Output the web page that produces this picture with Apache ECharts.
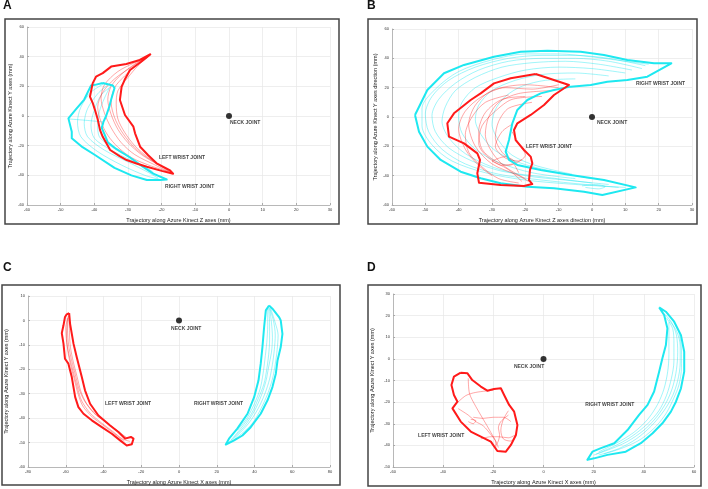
<!DOCTYPE html>
<html><head><meta charset="utf-8">
<script src="https://cdn.jsdelivr.net/npm/echarts@6/dist/echarts.min.js"></script>
<style>html,body{margin:0;padding:0;background:#fff}#c{width:708px;height:489px}</style>
</head><body><div id="c"></div>
<script>
// ---------- Panel A (Z vs Y) ----------
const A_leftOuter = [[-23.2,41.8],[-26.5,37.8],[-30.5,35.1],[-35,33.3],[-37.5,28.9],[-39.5,26.5],[-40.5,22],[-41.3,13],[-40.5,8.9],[-39.8,4],[-39,-2.2],[-38.3,-9.5],[-37.5,-14],[-35.3,-22.9],[-32.5,-27],[-30.4,-29.7],[-27.5,-32],[-24.4,-34.2],[-20,-37],[-16.6,-38.9],[-17.5,-36.7],[-21.5,-31.9],[-24,-26.5],[-26.4,-20.7],[-27.9,-11.7],[-28.4,-7.2],[-30.9,0.7],[-32.4,10.8],[-31.9,19.7],[-31,24.4],[-29.4,31],[-26,36.7],[-23.2,41.8]];
const A_leftTraces = [
 [[-23.5,41],[-28,36],[-33,30],[-37,21],[-38,12],[-37,2],[-35,-8],[-32,-18],[-28,-26],[-22,-33],[-17.5,-38]],
 [[-24,40.5],[-28,35],[-32,28],[-35,20],[-36,11],[-35,1],[-33,-9],[-30,-18],[-26,-26],[-21,-33],[-17,-38]],
 [[-24,40],[-27,35],[-31,27],[-34,19],[-35,9],[-34,-1],[-32,-10],[-29,-19],[-25,-27],[-20,-34],[-17,-38.5]],
 [[-24,40],[-27,34],[-30,26],[-33,17],[-33.5,8],[-33,-2],[-31,-11],[-28,-20],[-24,-28],[-19.5,-34.5]],
 [[-25,39],[-29,33],[-34,25],[-37.5,16],[-39,6],[-38,-4],[-36,-13],[-33,-21],[-29,-28],[-24,-33],[-18,-37.5]]
];
const A_rightOuter = [[-37.5,22.2],[-34.5,20.5],[-34,18.9],[-35,11.1],[-35.5,6.7],[-36.5,0],[-37.3,-4],[-37.8,-8],[-37,-12.2],[-36,-17.8],[-33.5,-22.2],[-29.5,-27.8],[-25.5,-34.4],[-22.5,-38.9],[-18.5,-42.8],[-20.5,-43.2],[-24.4,-43.2],[-29,-40],[-34,-35],[-39.8,-26.3],[-43.5,-21],[-46.7,-15],[-46.7,-10.6],[-47.7,-1.6],[-45.5,4.4],[-43,11.1],[-41,20.5],[-39.8,21],[-37.5,22.2]];
const A_rightTraces = [
 [[-37,22],[-41,16],[-44,6],[-45,-4],[-44,-14],[-39,-24],[-32,-33],[-25,-40],[-21,-42.5]],
 [[-36,21],[-39,15],[-42,5],[-43,-5],[-42,-14],[-37,-23],[-30,-31],[-24,-38],[-21,-42]],
 [[-35,20],[-38,14],[-40,4],[-41,-6],[-40,-15],[-35,-23],[-29,-30],[-23,-37]],
 [[-35.5,19],[-37,12],[-38.5,3],[-39,-6],[-38.5,-14],[-34,-22],[-28,-30],[-22.5,-38]],
 [[-47.5,-2],[-42,-3],[-37.5,-4]]
];
// ---------- Panel B (Z vs Y, direction) ----------
const B_rightOuter = [[-53.1,1.4],[-49.4,18.4],[-44.4,29.8],[-38.4,35.5],[-29.4,41.1],[-21.4,44.5],[-13.4,45.2],[-3.4,44.5],[3.6,42.3],[10.6,38.9],[18.6,36.6],[23.8,36.6],[16.6,27.5],[10.6,25.2],[4.6,24.1],[-0.4,21.8],[-6.4,20.7],[-11.4,18.4],[-15.4,16.1],[-19.4,11.6],[-22.4,4.8],[-23.9,-4.3],[-24.9,-15.7],[-25.9,-23.6],[-24.9,-29.3],[-22.4,-32.7],[-15.4,-36.1],[-6.4,-39.5],[3.6,-43],[13.1,-48],[3.1,-53.2],[-2.4,-50.9],[-11.4,-48.6],[-19.4,-47.5],[-27.4,-45.2],[-33.4,-41.8],[-39.4,-37.3],[-45.4,-29.3],[-49.4,-20.2],[-51.9,-10],[-53.1,1.4]];
const B_rightTraces = [
 [[17,36],[10,38],[0,41],[-10,43],[-20,43],[-30,39],[-40,31],[-47,19],[-51,6],[-51,-6],[-48,-19],[-42,-30],[-32,-38],[-20,-43],[-5,-46],[10,-48]],
 [[16,35],[5,40],[-5,42],[-15,42],[-25,40],[-35,34],[-43,25],[-48,14],[-50,2],[-49,-10],[-45,-22],[-38,-32],[-28,-39],[-15,-43],[-2,-46],[8,-48]],
 [[15,33],[5,38],[-5,40],[-15,40],[-25,38],[-34,32],[-41,23],[-46,12],[-48,1],[-47,-10],[-43,-21],[-36,-30],[-27,-37],[-14,-41],[0,-45]],
 [[12,32],[2,36],[-8,38],[-18,37],[-27,34],[-35,27],[-41,18],[-44,7],[-45,-3],[-43,-14],[-38,-25],[-30,-34],[-20,-40],[-8,-43],[5,-46]],
 [[10,30],[0,33],[-10,34],[-20,32],[-28,27],[-35,20],[-39,10],[-40,0],[-39,-11],[-35,-22],[-28,-31],[-18,-38],[-5,-42]],
 [[5,28],[-5,30],[-15,29],[-23,25],[-30,18],[-34,8],[-35,-2],[-33,-13],[-29,-23],[-22,-31],[-12,-37],[0,-42]],
 [[-5,26],[-14,25],[-21,21],[-26,14],[-29,5],[-30,-5],[-28,-16],[-24,-26],[-17,-33],[-6,-39]],
 [[-3,-47],[1,-46],[4,-47.5],[2,-49],[-2,-48]]
];
const B_leftOuter = [[-16.9,29.3],[-6.9,21.8],[-11.4,15],[-14.4,8.2],[-18.4,1.4],[-22.4,-4.3],[-23.4,-8.9],[-22.9,-15.7],[-20.4,-22.5],[-18.4,-27],[-17.9,-31.6],[-18.6,-36.1],[-18.9,-43],[-17.9,-45.7],[-20.4,-47],[-27.4,-46.4],[-33.9,-44.8],[-34.4,-38.4],[-33.6,-29.3],[-34.4,-24.8],[-38.4,-18],[-42.9,-13.4],[-43.4,-4.3],[-41.4,2.5],[-36.4,11.6],[-33.4,16.1],[-29.4,22.9],[-24.4,26.4],[-16.9,29.3]];
const B_leftTraces = [
 [[-10,20],[-20,22],[-30,18],[-35,8],[-37,-5],[-35,-20],[-30,-32],[-22,-40],[-19,-44]],
 [[-12,18],[-22,16],[-28,10],[-31,0],[-32,-12],[-30,-24],[-26,-34],[-20,-42]],
 [[-15,14],[-24,12],[-29,4],[-33,-6],[-34,-18],[-31,-28],[-25,-36],[-21,-44]],
 [[-18,10],[-25,6],[-28,-3],[-29,-14],[-27,-24],[-24,-30],[-22,-38]],
 [[-25,15],[-32,10],[-36,0],[-38,-12],[-37,-24],[-33,-34],[-28,-42],[-22,-45]],
 [[-10,22],[-18,19],[-26,20],[-33,14],[-38,4],[-40,-8],[-38,-22],[-34,-33],[-30,-40]],
 [[-24,-5],[-27,-10],[-29,-20],[-26,-28],[-22,-30],[-20,-26],[-22,-18],[-24,-10]],
 [[-30,-30],[-27,-33],[-23,-31],[-26,-27],[-30,-30]],
 [[-20,14],[-27,12],[-32,3],[-34,-10],[-33,-22],[-29,-30],[-25,-33],[-21,-29]]
];
// ---------- Panel C (X vs Y) ----------
const C_leftOuter = [[-58.2,3],[-59.5,2.5],[-60.4,1.4],[-61.2,-2],[-62.1,-5.2],[-61.2,-9.5],[-60.4,-15.7],[-58.6,-17.7],[-56.8,-23.2],[-55.9,-27.3],[-55,-31.4],[-53.3,-35.5],[-50.6,-38.2],[-46.2,-40.9],[-40.9,-43.7],[-35.6,-46.4],[-31.2,-49.1],[-27.7,-51.2],[-25,-50.7],[-24.1,-48.4],[-25.5,-47.7],[-28.6,-48.4],[-32.1,-45.7],[-36.5,-43],[-42.7,-38.9],[-47.1,-34.1],[-49.8,-28.6],[-51.5,-23.2],[-54.2,-15],[-55.9,-9.5],[-57.7,-1.4],[-58.2,3]];
const C_leftTraces = [
 [[-58.5,2],[-60,-3],[-59.5,-9],[-58,-15],[-56,-21],[-54,-27],[-51.5,-33],[-47,-38],[-41,-42],[-35,-45.5],[-30,-48.5],[-26,-49.5]],
 [[-58.5,2],[-59,-4],[-58.5,-10],[-57,-16],[-55,-22],[-53,-28],[-50,-33],[-45,-38],[-39,-41.5],[-33,-45],[-28,-48]],
 [[-58,1],[-58,-5],[-57.5,-11],[-56,-17],[-54,-23],[-52,-29],[-49,-34],[-44,-38.5],[-38,-42],[-32,-45.5],[-27,-48.5]],
 [[-59,1],[-59.5,-6],[-59,-12],[-57.5,-18],[-55.5,-24],[-53.5,-30],[-51,-35],[-46,-39.5],[-40,-43],[-34,-46.5],[-29,-49.5]]
];
const C_rightOuter = [[47.7,6.1],[49.5,4.8],[53,1.4],[53.9,0],[54.8,-5.5],[53.9,-10.9],[52.2,-16.4],[51.3,-21.8],[49.5,-27.3],[46.9,-32.7],[43.3,-38.2],[38,-43.7],[33.6,-47.1],[29.2,-49.1],[24.8,-50.8],[26.5,-48.4],[30.9,-44.3],[36.3,-38.2],[39.8,-31.4],[42.1,-24.6],[43.3,-17.7],[44.2,-10.9],[45.1,-2.7],[46,4.1],[47.7,6.1]];
const C_rightTraces = [
 [[48,5],[50,0],[51,-6],[50.5,-12],[49.5,-18],[48,-24],[45.5,-30],[42,-36],[37,-42],[31,-47],[26,-50]],
 [[48,5],[49,-1],[49.5,-7],[49,-13],[47.5,-19],[46,-25],[43.5,-31],[40,-37],[35,-43],[29,-48]],
 [[47.5,5],[48,-1],[48,-8],[47.5,-14],[46.5,-20],[45,-26],[42,-32],[38.5,-38],[33,-44],[27.5,-49]],
 [[48.5,5],[51,-1],[52.5,-6],[52,-12],[51,-18],[49.5,-24],[47,-30],[43.5,-36],[39,-42],[33,-46.5],[27,-50]],
 [[47,5],[47,-2],[46.5,-9],[45.5,-16],[44.5,-22],[43,-28],[40,-34],[36,-40],[31,-45]]
];
// ---------- Panel D (X vs Y) ----------
const D_leftOuter = [[-33,-6.4],[-35.7,-8.2],[-36.7,-12.1],[-35.7,-16.7],[-34.3,-19.8],[-36.3,-22.9],[-33,-29],[-29,-33.6],[-25,-36],[-21,-38.3],[-18.4,-42.6],[-15,-42.9],[-13,-39.8],[-11,-35.2],[-10.4,-30.6],[-11.7,-24.4],[-13.7,-21.3],[-15.7,-16.7],[-17,-13.6],[-19.7,-13.9],[-22.4,-14.7],[-25,-12.8],[-28.4,-9.8],[-30.3,-6.7],[-33,-6.4]];
const D_leftTraces = [
 [[-30,-9],[-29.5,-16],[-27,-22],[-24,-28],[-21,-34],[-19,-39],[-19,-41]],
 [[-35,-21],[-31,-17],[-27,-15.5],[-20,-14.5]],
 [[-34,-23],[-30,-26],[-27,-29],[-24,-31],[-21,-35],[-19,-38],[-18,-41]],
 [[-28,-27],[-24,-27.5],[-20,-27],[-16,-27],[-13,-29]],
 [[-14,-24],[-16,-28],[-17,-33],[-16,-37],[-13,-38],[-11,-36]],
 [[-25,-37],[-21,-36],[-18,-36],[-14,-36.5],[-11,-35]],
 [[-19,-40],[-18,-38],[-17.5,-35],[-18,-32],[-17,-29],[-14,-26]],
 [[-30,-29],[-28,-30],[-27,-28.5],[-29,-28]]
];
const D_rightOuter = [[46.1,23.8],[48.8,21.8],[52.1,17.2],[54.8,11],[56.1,3.3],[56.1,-5.9],[54.8,-13.6],[52.8,-19.8],[50.8,-24.4],[47.4,-29.8],[43.5,-34.4],[38.8,-39],[32.8,-42.9],[25.5,-44.4],[20.2,-46],[17.5,-46.7],[19.5,-42.9],[22.9,-41.3],[28.2,-39],[33.5,-32.9],[38.1,-25.9],[41.5,-21.3],[44.1,-15.1],[46.1,-5.9],[47.4,0.3],[48.8,6.4],[49.4,14.1],[48.1,20.3],[46.1,23.8]];
const D_rightTraces = [
 [[48,21],[51,17],[53,11],[53.5,3],[53,-5],[51.5,-13],[49,-20],[45,-27],[40,-33],[33,-38.5],[26,-42],[20,-44.5]],
 [[49,19],[51.5,14],[52,7],[52,-1],[51,-9],[49,-17],[46,-24],[41.5,-30],[35,-36],[28,-40.5],[21,-44]],
 [[50,18],[53,13],[54.5,6],[54.5,-2],[53.5,-10],[51.5,-17],[48,-24],[43,-31],[37,-37],[30,-41.5],[22,-44.5]],
 [[50,17],[50,10],[50,2],[49.5,-6],[48,-14],[45.5,-21],[41.5,-28],[36,-34],[29,-39],[22,-43]],
 [[52,17],[54,12],[55,4],[55,-4],[54,-12],[52,-18],[49,-25],[45,-31],[39,-37],[32,-41],[24,-44]]
];
// ---------- annotations ----------
const neck = [0, 0];
const labelsA = [["NECK JOINT",0.3,-4.7],["LEFT WRIST JOINT",-20.8,-28.3],["RIGHT WRIST JOINT",-19,-47.9]];
const labelsB = [["RIGHT WRIST JOINT",13.2,22.5],["NECK JOINT",1.5,-4.1],["LEFT WRIST JOINT",-19.8,-20.4]];
const labelsC = [["NECK JOINT",-4.2,-3.5],["LEFT WRIST JOINT",-39.2,-34.2],["RIGHT WRIST JOINT",7.9,-34.2]];
const labelsD = [["NECK JOINT",-11.8,-3.8],["RIGHT WRIST JOINT",16.6,-21.3],["LEFT WRIST JOINT",-50,-35.6]];
const xTitles = ["Trajectory along Azure Kinect Z axes (mm)","Trajectory along Azure Kinect Z axes direction (mm)","Trajectory along Azure Kinect X axes (mm)","Trajectory along Azure Kinect X axes (mm)"];
const yTitles = ["Trajectory along Azure Kinect Y axes (mm)","Trajectory along Azure Kinect Y axes direction (mm)","Trajectory along Azure Kinect Y axes (mm)","Trajectory along Azure Kinect Y axes (mm)"];
const xRanges = [[-60,30,10],[-60,30,10],[-80,80,20],[-60,60,20]];
const yRanges = [[-60,60,20],[-60,60,20],[-60,10,10],[-50,30,10]];

const RED = '#ff1a1a', CYAN = '#1ee8f0';
const FONT = 'Liberation Sans, Arial, sans-serif';
const grids = [
  {left:27, right:378, top:27, bottom:284},
  {left:392, right:16, top:29, bottom:284},
  {left:28, right:378, top:296, bottom:22},
  {left:393, right:14, top:294, bottom:22}
];
const yGaps = [14, 14, 19, 18];
const xAxes = [], yAxes = [];
for (let i = 0; i < 4; i++) {
  xAxes.push({type:'value', gridIndex:i, min:xRanges[i][0], max:xRanges[i][1], interval:xRanges[i][2],
    name:xTitles[i], nameLocation:'middle', nameGap:12,
    nameTextStyle:{fontSize:5.5, color:'#222', fontFamily:FONT},
    axisLine:{onZero:false, lineStyle:{color:'#aaa', width:0.8}},
    axisTick:{inside:true, length:2, lineStyle:{color:'#aaa'}},
    axisLabel:{fontSize:4, color:'#333', margin:3, fontFamily:FONT},
    splitLine:{show:true, lineStyle:{color:'#e6e6e6', width:0.7}}});
  yAxes.push({type:'value', gridIndex:i, min:yRanges[i][0], max:yRanges[i][1], interval:yRanges[i][2],
    name:yTitles[i], nameLocation:'middle', nameGap:yGaps[i],
    nameTextStyle:{fontSize:5.5, color:'#222', fontFamily:FONT},
    axisLine:{onZero:false, lineStyle:{color:'#aaa', width:0.8}},
    axisTick:{inside:true, length:2, lineStyle:{color:'#aaa'}},
    axisLabel:{fontSize:4, color:'#333', margin:3, fontFamily:FONT},
    splitLine:{show:true, lineStyle:{color:'#e6e6e6', width:0.7}}});
}
const series = [];
function addLine(i, data, color, width, opacity, smooth) {
  series.push({type:'line', xAxisIndex:i, yAxisIndex:i, data:data, showSymbol:false, symbol:'none',
    smooth:smooth, silent:true, animation:false,
    lineStyle:{color:color, width:width, opacity:opacity, join:'round'}, z: width > 1 ? 5 : 3});
}
const panels = [
  {left:A_leftOuter, lt:A_leftTraces, right:A_rightOuter, rt:A_rightTraces, labels:labelsA},
  {left:B_leftOuter, lt:B_leftTraces, right:B_rightOuter, rt:B_rightTraces, labels:labelsB},
  {left:C_leftOuter, lt:C_leftTraces, right:C_rightOuter, rt:C_rightTraces, labels:labelsC},
  {left:D_leftOuter, lt:D_leftTraces, right:D_rightOuter, rt:D_rightTraces, labels:labelsD}
];
panels.forEach((p, i) => {
  p.rt.forEach(t => addLine(i, t, CYAN, 0.7, 0.6, 0.3));
  p.lt.forEach(t => addLine(i, t, RED, 0.7, 0.55, 0.3));
  addLine(i, p.right, CYAN, 2, 1, false);
  addLine(i, p.left, RED, 2, 1, false);
  series.push({type:'scatter', xAxisIndex:i, yAxisIndex:i, data:[neck], symbolSize:6,
    itemStyle:{color:'#000'}, z:6, animation:false});
  series.push({type:'scatter', xAxisIndex:i, yAxisIndex:i, symbolSize:0, animation:false, z:7,
    data:p.labels.map(l => ({value:[l[1], l[2]], name:l[0]})),
    label:{show:true, position:'right', distance:0, formatter:'{b}', fontSize:5, fontWeight:'bold',
      color:'#111', fontFamily:FONT}});
});
const boxes = [[5,19,334,205],[368,19,329,205],[2,285,338,200],[368,285,333,201]];
const letters = [['A',3,0],['B',367,0],['C',3,262],['D',367,262]];
const graphic = [];
boxes.forEach(b => graphic.push({type:'rect', shape:{x:b[0], y:b[1], width:b[2], height:b[3]},
  style:{fill:'none', stroke:'#444', lineWidth:1.5}, silent:true}));
letters.forEach(l => graphic.push({type:'text', x:l[1], y:l[2],
  style:{text:l[0], fontSize:12, fontWeight:'bold', fill:'#111', fontFamily:FONT}}));
const chart = echarts.init(document.getElementById('c'), null, {renderer:'canvas'});
chart.setOption({backgroundColor:'#fff', animation:false, grid:grids, xAxis:xAxes, yAxis:yAxes,
  series:series, graphic:graphic});
</script></body></html>
